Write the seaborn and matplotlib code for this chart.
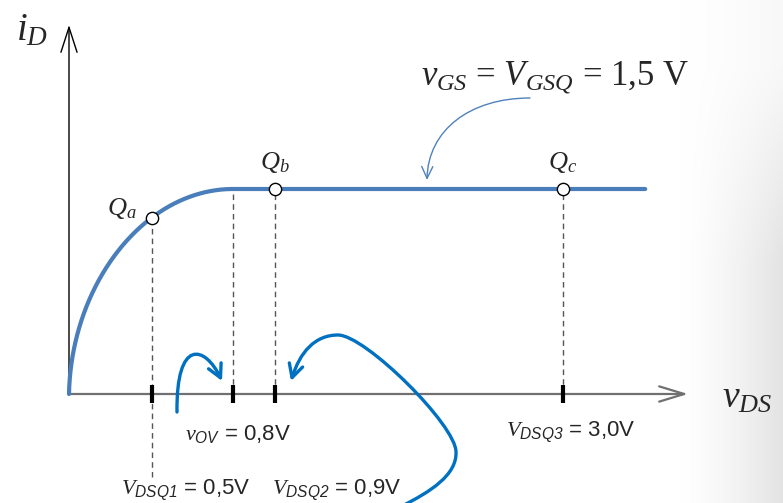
import numpy as np
import pandas as pd
import matplotlib
matplotlib.use("Agg")
import matplotlib.pyplot as plt
from matplotlib import transforms
from matplotlib.patches import FancyArrowPatch
from matplotlib.path import Path
import seaborn as sns

# ---- operating point data (volts, drain current normalised to saturation) ----
V_OV = 0.8                      # overdrive voltage
V_DS_END = 3.6                  # end of the drawn characteristic
Q_NAMES = ["a", "b", "c"]
V_DSQ = [0.5, 0.9, 3.0]         # V_DSQ1..3
TICK_VALUES = [0.5, 0.8, 0.9, 3.0]
TICK_TEXT = {
    0.8: r"$v_{\mathsf{OV}}$ = 0,8V",
    0.5: r"$V_{\mathsf{DSQ1}}$ = 0,5V",
    0.9: r"$V_{\mathsf{DSQ2}}$ = 0,9V",
    3.0: r"$V_{\mathsf{DSQ3}}$ = 3,0V",
}
GATE_TEXT = r"$v_{GS}$ = $V_{GSQ}$ = 1,5 V"


def drain_current(v):
    """Square-law MOSFET model: triode below V_OV, saturation above."""
    r = np.clip(np.asarray(v, float) / V_OV, 0, None)
    return np.where(r < 1, 2 * r - r ** 2, 1.0)


vds = np.unique(np.r_[np.linspace(0, V_OV, 1601), np.linspace(V_OV, V_DS_END, 60)])
curve = pd.DataFrame({"vDS": vds, "iD": drain_current(vds)})
qpts = pd.DataFrame({"Q": Q_NAMES, "vDS": V_DSQ, "iD": drain_current(V_DSQ)})

# ---- schematic (non-proportional) voltage axis ----
# triode region is stretched so that the square law reads as a quarter ellipse
_vq = np.linspace(0, V_OV, 2001)
_t = _vq / V_OV
_u = 1 - _t
_fq = 164 * (1 - _u * np.sqrt(2 - _u ** 2)) + 2.6 * np.sin(np.pi * _t)
_vt = np.r_[-20.0, _vq, 0.9, 3.0, 20.0]
_ft = np.r_[-20 * 101.0, _fq, 206.0, 494.0, 494.0 + 17 * 137.0]


def fwd(v):
    return np.interp(v, _vt, _ft)


def inv(x):
    return np.interp(x, _ft, _vt)


W, H = 783, 503
X0, Y0, ISAT = 69, 394, 205     # origin (px) and saturation height (px)

sns.set_theme(style="white")
plt.rcParams["font.family"] = ["Liberation Sans", "DejaVu Sans"]
plt.rcParams["mathtext.fontset"] = "custom"
plt.rcParams["mathtext.it"] = "Liberation Serif:italic"
plt.rcParams["mathtext.rm"] = "Liberation Serif"
plt.rcParams["mathtext.sf"] = "Liberation Sans:italic"

fig = plt.figure(figsize=(W / 100, H / 100), dpi=100)
pix = transforms.Affine2D().scale(1 / W, -1 / H).translate(0, 1) + fig.transFigure

# soft grey shade along the right edge
bg = fig.add_axes([0, 0, 1, 1], zorder=-2)
xx = np.arange(W)[None, :]
yy = np.arange(H)[:, None]
shade = np.clip((xx - 680) / (W - 680), 0, 1) ** 1.4 * np.clip(yy / 260, 0.25, 1) * 0.11
bg.imshow(1 - np.repeat(shade[:, :, None], 3, axis=2), extent=(0, W, H, 0), aspect="auto")
bg.axis("off")

ax = fig.add_axes([0, 0, 1, 1])
ax.patch.set_alpha(0)

curve_color = "#4A7EBB"
sns.lineplot(data=curve, x="vDS", y="iD", ax=ax, color=curve_color, lw=3,
             estimator=None, sort=False, zorder=3)

ax.set_xscale("function", functions=(fwd, inv))
ax.set_xlim(inv(-X0), inv(W - X0))
ax.set_ylim(-(H - Y0) / ISAT, Y0 / ISAT)
ax.axis("off")

# dashed projections
dash = (0, (4, 3))
qa_i = drain_current(V_DSQ[0])
ax.vlines(V_DSQ[0], -83 / ISAT, qa_i, colors="#555555", lw=1, linestyles=dash, zorder=2)
ax.vlines([V_OV, V_DSQ[1], V_DSQ[2]], 0, 1.0, colors="#555555", lw=1, linestyles=dash, zorder=2)

# coordinate axes with open arrow heads
x_tip = inv(688 - X0)
y_tip = (Y0 - 25) / ISAT
ax.annotate("", xy=(x_tip, 0), xytext=(0, 0),
            arrowprops=dict(arrowstyle="->,head_length=1.8,head_width=0.55", mutation_scale=10,
                            color="#707070", lw=1.6, shrinkA=0, shrinkB=0), zorder=1)
ax.annotate("", xy=(0, y_tip), xytext=(0, 0),
            arrowprops=dict(arrowstyle="->,head_length=1.8,head_width=0.58", mutation_scale=10,
                            color="black", lw=1.0, shrinkA=0, shrinkB=0), zorder=1)

# tick marks
ax.vlines(TICK_VALUES, -9 / ISAT, 9 / ISAT, colors="black", lw=3, zorder=4)

# operating points
sns.scatterplot(data=qpts, x="vDS", y="iD", ax=ax, s=78, color="white",
                edgecolor="black", linewidth=1, zorder=6, legend=False)

# labels of the operating points
for name, v, i in zip(qpts["Q"], qpts["vDS"], qpts["iD"]):
    if name == "a":
        ax.annotate(rf"$Q_{{{name}}}$", xy=(v, i), xytext=(-11, 7), textcoords="offset points",
                    ha="right", va="center", fontsize=19)
    else:
        ax.annotate(rf"$Q_{{{name}}}$", xy=(v, i), xytext=(0, 19), textcoords="offset points",
                    ha="center", va="center", fontsize=19)

# voltage labels under the axis
label_offsets = {0.8: (3.6, -29), 0.5: (25, -69), 0.9: (44.6, -69), 3.0: (5.8, -27.4)}
for v in TICK_VALUES:
    ax.annotate(TICK_TEXT[v], xy=(v, 0), xytext=label_offsets[v], textcoords="offset points",
                ha="center", va="center", fontsize=16, family="Liberation Sans")

# axis names and gate-voltage caption
fig.text(32, 30, r"$i_{D}$", transform=pix, ha="center", va="center", fontsize=28)
fig.text(722, 398, r"$v_{DS}$", transform=pix, ha="left", va="center", fontsize=27)
fig.text(555, 77, GATE_TEXT, transform=pix, ha="center", va="center", fontsize=25,
         family="Liberation Serif")

# pointer from caption to the characteristic
C = Path.CURVE4
thin = Path([(530, 98), (470, 98), (428, 130), (427, 180)], [Path.MOVETO, C, C, C])
fig.add_artist(FancyArrowPatch(path=thin, transform=pix, color="#4F81BD", lw=1.0,
                               arrowstyle="->,head_length=0.85,head_width=0.4",
                               mutation_scale=10))

# hand-drawn style arrows
blue = "#0070C0"
hook = Path([(177, 412), (176, 338), (205, 345), (222, 381)], [Path.MOVETO, C, C, C])
loop = Path([(402, 506), (430, 492), (457, 475), (456, 452),
             (456, 425), (365, 335), (338, 335),
             (315, 335), (300, 352), (291, 381)],
            [Path.MOVETO, C, C, C, C, C, C, C, C, C])
for p in (hook, loop):
    fig.add_artist(FancyArrowPatch(path=p, transform=pix, color=blue, lw=2.4,
                                   arrowstyle="->,head_length=0.95,head_width=0.5",
                                   mutation_scale=10, capstyle="round"))

fig.savefig("out.png", dpi=100)
